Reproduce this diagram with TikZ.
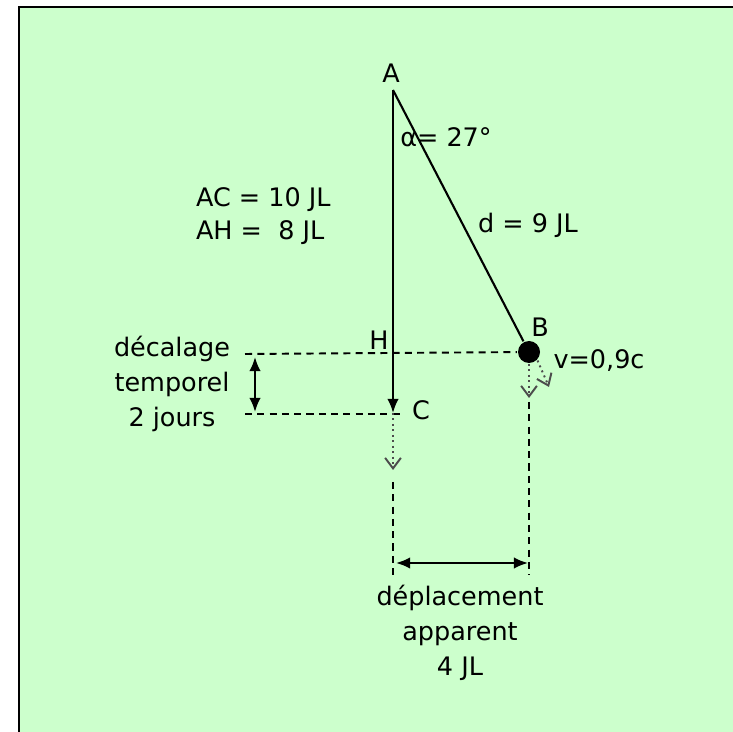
\documentclass[tikz,border=0pt]{standalone}
\usepackage{fontspec}
\setmainfont{DejaVu Sans}
\usepackage{xcolor}
\usetikzlibrary{arrows.meta}
\definecolor{fond}{HTML}{CCFFCC}

\begin{document}
\begin{tikzpicture}[
    x=0.02cm, y=-0.02cm,
    >={Latex[length=8pt,width=6.5pt]},
    line width=1.2pt,
    every node/.style={font=\fontsize{14.5}{20}\selectfont, inner sep=0pt},
    tirets/.style={dash pattern=on 4pt off 3pt, line width=1.1pt},
    pointille/.style={dotted, line width=1.1pt, gray!60!black,
      -{Straight Barb[length=6pt,width=9pt]}}
  ]
    \useasboundingbox (0,0) rectangle (733,732);
    \fill[fond] (19,7) rectangle (733,732);
    \draw[line width=1.4pt] (19,732) -- (19,7) -- (733,7);

    \coordinate (A) at (393,90);
    \coordinate (C) at (393,413);
    \node[circle, fill, minimum size=0.44cm] (B) at (529,352) {};
    \coordinate (g1) at (245,354);
    \coordinate (g2) at (245,414);
    \coordinate (c2) at (402,414);
    \coordinate (t1) at (255,357);
    \coordinate (t2) at (255,412);
    \coordinate (Cp) at (393,470);
    \coordinate (Bp) at (529,398);
    \coordinate (Bv) at (549,387);
    \coordinate (Cq) at (393,482);
    \coordinate (Cr) at (393,575);
    \coordinate (Bq) at (529,402);
    \coordinate (Br) at (529,575);
    \coordinate (D1) at (396,563);
    \coordinate (D2) at (528,563);

    \node (lA) at (391,73) {A};
    \node (lB) at (540,327) {B};
    \node (lC) at (421,410) {C};
    \node (lH) at (379,340) {H};
    \node (alpha) at (446,137) {α= 27°};
    \node (d) at (528,225) {d = 9 JL};
    \node (v) at (599,361) {v=0,9c};
    \node[anchor=west] (AC) at (195,200) {AC = 10 JL};
    \node[anchor=west] (AH) at (195,233) {AH = \ 8 JL};
    \node[align=center] (decal) at (172,384) {décalage\\temporel\\2 jours};
    \node[align=center] (depl) at (460,633) {déplacement\\apparent\\4 JL};

    \draw[->] (A) -- (C);
    \draw (A) -- (B);
    \draw[tirets] (g1) -- (B);
    \draw[tirets] (g2) -- (c2);
    \draw[<->] (t1) -- (t2);
    \draw[pointille] (C) -- (Cp);
    \draw[pointille] (B.south) -- (Bp);
    \draw[pointille] (B.south east) -- (Bv);
    \draw[tirets] (Cq) -- (Cr);
    \draw[tirets] (Bq) -- (Br);
    \draw[<->] (D1) -- (D2);
  \end{tikzpicture}
\end{document}
